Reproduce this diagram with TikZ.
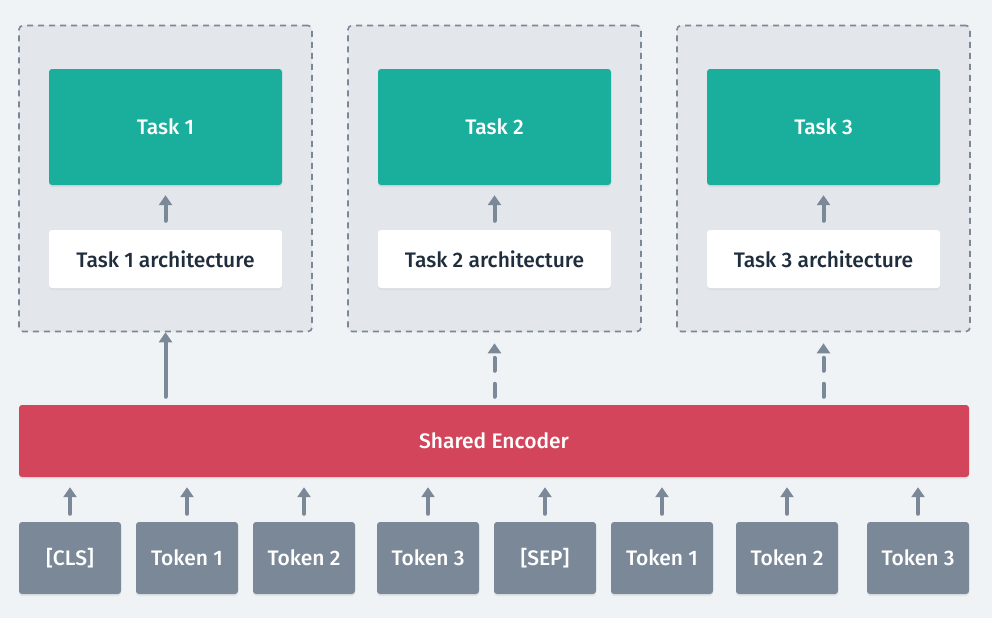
\documentclass[tikz,border=0pt]{standalone}
\usepackage{fontspec}
\setmainfont{Fira Sans Medium}
\usetikzlibrary{arrows.meta,shadows,calc}
\definecolor{bgc}{HTML}{F0F3F6}
\definecolor{panelc}{HTML}{E3E6EA}
\definecolor{slate}{HTML}{7A8897}
\definecolor{tealc}{HTML}{1AAF9C}
\definecolor{redc}{HTML}{D2455A}
\definecolor{darktxt}{HTML}{1F2D3D}
\tikzset{
  lbl/.style={font=\fontsize{21}{24}\selectfont},
  panel/.style={draw=slate, fill=panelc, line width=1.6pt, dash pattern=on 6pt off 5pt, rounded corners=4pt, minimum width=293pt, minimum height=306pt},
  taskbox/.style={lbl, fill=tealc, rounded corners=3pt, minimum width=233pt, minimum height=116pt, text=white, drop shadow={opacity=0.12, shadow xshift=0pt, shadow yshift=-2pt}},
  archbox/.style={lbl, fill=white, rounded corners=3pt, minimum width=233pt, minimum height=58pt, text=darktxt, drop shadow={opacity=0.08, shadow xshift=0pt, shadow yshift=-2pt}},
  encbox/.style={lbl, fill=redc, rounded corners=3pt, minimum width=950pt, minimum height=72pt, text=white, drop shadow={opacity=0.12, shadow xshift=0pt, shadow yshift=-2pt}},
  tokbox/.style={lbl, fill=slate, rounded corners=3pt, minimum width=102pt, minimum height=72pt, text=white, drop shadow={opacity=0.12, shadow xshift=0pt, shadow yshift=-2pt}},
  arr/.style={draw=slate, line width=4pt, line cap=round, -{Triangle[width=13pt,length=10pt]}},
  darr/.style={arr, dash pattern=on 13pt off 13pt},
}
\begin{document}
\begin{tikzpicture}[x=1pt,y=-1pt]
\fill[bgc] (0,0) rectangle (992,618);
\useasboundingbox (0,0) rectangle (992,618);
% panels
\node[panel] (p1) at (165.5,178.5) {};
\node[panel] (p2) at (494.5,178.5) {};
\node[panel] (p3) at (823.5,178.5) {};
% tasks
\node[taskbox] (t1) at (165.5,127) {Task 1};
\node[taskbox] (t2) at (494.5,127) {Task 2};
\node[taskbox] (t3) at (823.5,127) {Task 3};
\node[archbox] (a1) at (165.5,259) {Task 1 architecture};
\node[archbox] (a2) at (494.5,259) {Task 2 architecture};
\node[archbox] (a3) at (823.5,259) {Task 3 architecture};
% encoder
\node[encbox] (enc) at (494,441) {Shared Encoder};
% tokens
\node[tokbox] (k1) at (70,558) {[CLS]};
\node[tokbox] (k2) at (187,558) {Token 1};
\node[tokbox] (k3) at (304,558) {Token 2};
\node[tokbox] (k4) at (428,558) {Token 3};
\node[tokbox] (k5) at (545,558) {[SEP]};
\node[tokbox] (k6) at (662,558) {Token 1};
\node[tokbox] (k7) at (787,558) {Token 2};
\node[tokbox] (k8) at (918,558) {Token 3};
% arrows arch -> task
\foreach \i in {1,2,3}{
  \draw[arr, shorten <=9pt, shorten >=10pt] (a\i.north) -- (t\i.south);
}
% encoder -> panels
\draw[arr, shorten <=8pt] (p1.south |- enc.north) -- (p1.south);
\draw[darr, shorten <=8pt, shorten >=11pt] (p2.south |- enc.north) -- (p2.south);
\draw[darr, shorten <=8pt, shorten >=11pt] (p3.south |- enc.north) -- (p3.south);
% tokens -> encoder
\foreach \i in {1,...,8}{
  \draw[arr, shorten <=8pt, shorten >=10pt] (k\i.north) -- (k\i.north |- enc.south);
}
\end{tikzpicture}
\end{document}
